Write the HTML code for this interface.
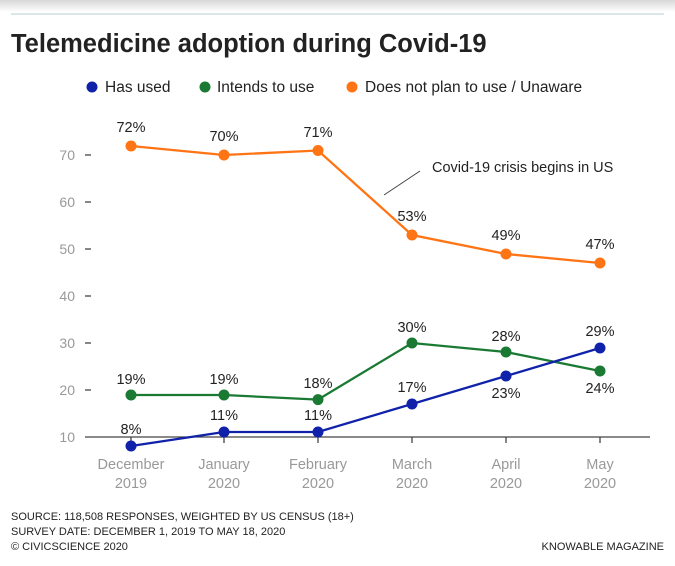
<!DOCTYPE html>
<html><head><style>
body{margin:0;background:#fff;}
svg{display:block;font-family:"Liberation Sans",sans-serif;}
</style></head><body>
<svg width="675" height="566" viewBox="0 0 675 566">
<defs><linearGradient id="g" x1="0" y1="0" x2="0" y2="1"><stop offset="0" stop-color="#d8d8d8"/><stop offset="1" stop-color="#fff"/></linearGradient></defs>
<rect width="675" height="12" fill="url(#g)"/>
<line x1="11" y1="14" x2="664" y2="14" stroke="#cfe0e2" stroke-width="1.5"/>
<text x="11" y="52" font-size="25.5" font-weight="bold" fill="#222">Telemedicine adoption during Covid-19</text>
<g font-size="15.5" fill="#222">
<circle cx="92" cy="87" r="5.5" fill="#1122aa"/><text x="105" y="92">Has used</text>
<circle cx="205" cy="87" r="5.5" fill="#1a7a33"/><text x="217" y="92">Intends to use</text>
<circle cx="352" cy="87" r="5.5" fill="#ff7414"/><text x="365" y="92">Does not plan to use / Unaware</text>
</g>
<g font-size="14" fill="#999" text-anchor="end">
<text x="75" y="160">70</text><text x="75" y="207">60</text><text x="75" y="254">50</text><text x="75" y="301">40</text><text x="75" y="348">30</text><text x="75" y="395">20</text><text x="75" y="442">10</text>
</g>
<g stroke="#444" stroke-width="1.3">
<line x1="85" y1="155" x2="91" y2="155"/><line x1="85" y1="202" x2="91" y2="202"/><line x1="85" y1="249" x2="91" y2="249"/><line x1="85" y1="296" x2="91" y2="296"/><line x1="85" y1="343" x2="91" y2="343"/><line x1="85" y1="390" x2="91" y2="390"/>
<line x1="85" y1="437" x2="650" y2="437"/>
<line x1="131" y1="437" x2="131" y2="443"/><line x1="224" y1="437" x2="224" y2="443"/><line x1="318" y1="437" x2="318" y2="443"/><line x1="412" y1="437" x2="412" y2="443"/><line x1="506" y1="437" x2="506" y2="443"/><line x1="600" y1="437" x2="600" y2="443"/>
<line x1="384" y1="195" x2="420" y2="171" stroke-width="1"/>
</g>
<text x="432" y="172" font-size="14.5" fill="#222">Covid-19 crisis begins in US</text>
<g font-size="14.5" fill="#999" text-anchor="middle">
<text x="131" y="469">December</text><text x="131" y="488">2019</text>
<text x="224" y="469">January</text><text x="224" y="488">2020</text>
<text x="318" y="469">February</text><text x="318" y="488">2020</text>
<text x="412" y="469">March</text><text x="412" y="488">2020</text>
<text x="506" y="469">April</text><text x="506" y="488">2020</text>
<text x="600" y="469">May</text><text x="600" y="488">2020</text>
</g>
<polyline points="131,146 224,155 318,150.5 412,235 506,254 600,263" fill="none" stroke="#ff7414" stroke-width="2.3"/>
<polyline points="131,395 224,395 318,399.6 412,343 506,352 600,371" fill="none" stroke="#1a7a33" stroke-width="2.3"/>
<polyline points="131,446 224,432 318,432 412,404 506,376 600,348" fill="none" stroke="#1122aa" stroke-width="2.3"/>
<g fill="#ff7414"><circle cx="131" cy="146" r="5.5"/><circle cx="224" cy="155" r="5.5"/><circle cx="318" cy="150.5" r="5.5"/><circle cx="412" cy="235" r="5.5"/><circle cx="506" cy="254" r="5.5"/><circle cx="600" cy="263" r="5.5"/></g>
<g fill="#1a7a33"><circle cx="131" cy="395" r="5.5"/><circle cx="224" cy="395" r="5.5"/><circle cx="318" cy="399.6" r="5.5"/><circle cx="412" cy="343" r="5.5"/><circle cx="506" cy="352" r="5.5"/><circle cx="600" cy="371" r="5.5"/></g>
<g fill="#1122aa"><circle cx="131" cy="446" r="5.5"/><circle cx="224" cy="432" r="5.5"/><circle cx="318" cy="432" r="5.5"/><circle cx="412" cy="404" r="5.5"/><circle cx="506" cy="376" r="5.5"/><circle cx="600" cy="348" r="5.5"/></g>
<g font-size="14.5" fill="#222" text-anchor="middle">
<text x="131" y="132">72%</text><text x="224" y="141">70%</text><text x="318" y="137">71%</text><text x="412" y="221">53%</text><text x="506" y="240">49%</text><text x="600" y="249">47%</text>
<text x="131" y="384">19%</text><text x="224" y="384">19%</text><text x="318" y="388">18%</text><text x="412" y="332">30%</text><text x="506" y="341">28%</text><text x="600" y="393">24%</text>
<text x="131" y="434">8%</text><text x="224" y="420">11%</text><text x="318" y="420">11%</text><text x="412" y="392">17%</text><text x="506" y="398">23%</text><text x="600" y="336">29%</text>
</g>
<g font-size="11" fill="#222">
<text x="11" y="520">SOURCE: 118,508 RESPONSES, WEIGHTED BY US CENSUS (18+)</text>
<text x="11" y="535">SURVEY DATE: DECEMBER 1, 2019 TO MAY 18, 2020</text>
<text x="11" y="550">© CIVICSCIENCE 2020</text>
<text x="664" y="550" text-anchor="end">KNOWABLE MAGAZINE</text>
</g>
</svg>
</body></html>
